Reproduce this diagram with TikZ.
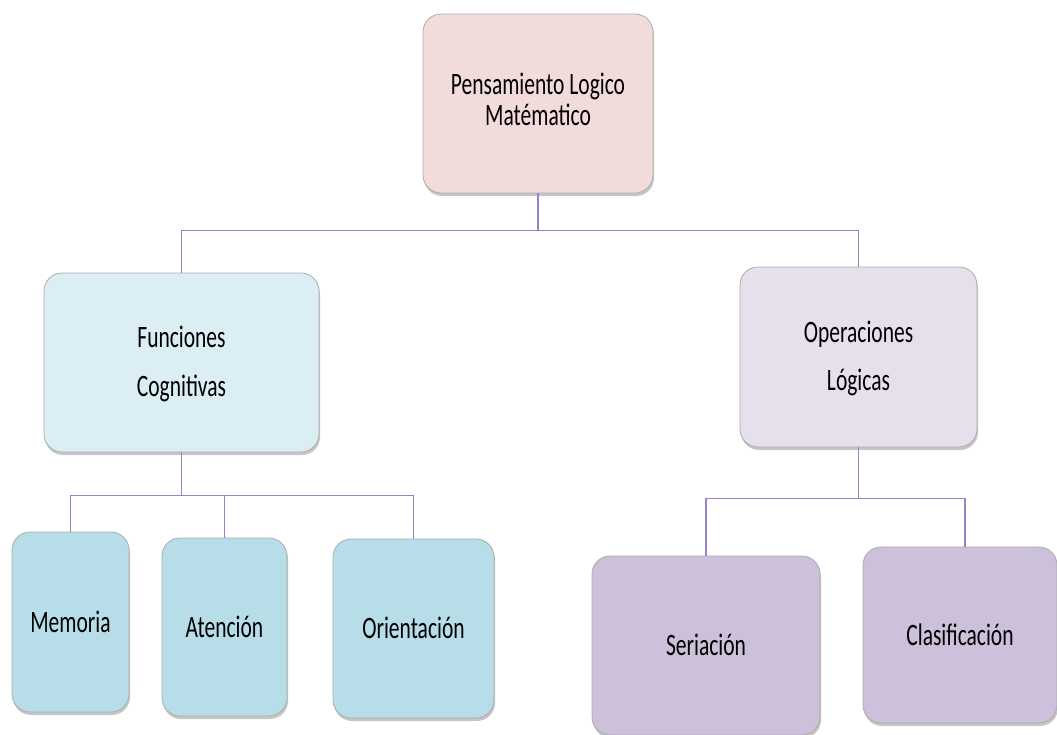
\documentclass[tikz,border=0pt]{standalone}
\usepackage{graphicx}
\usepackage{fontspec}
\setmainfont{Carlito}
\usetikzlibrary{shadows}
\definecolor{toppink}{HTML}{F2DCDB}
\definecolor{lightblue}{HTML}{DBEEF3}
\definecolor{lightlav}{HTML}{E5E0EC}
\definecolor{midblue}{HTML}{B7DEE8}
\definecolor{midlav}{HTML}{CCC0DA}
\definecolor{connpurple}{HTML}{9A80C4}
\newcommand\tallt[2]{\scalebox{1}[1.45]{\fontsize{21.5}{#1}\selectfont\begin{tabular}{@{}c@{}}#2\end{tabular}}}
\newcommand\onet[1]{\scalebox{1}[1.45]{\fontsize{21.5}{26}\selectfont\raisebox{0pt}[0.644em][0pt]{#1}}}
\begin{document}
\begin{tikzpicture}[x=1pt,y=-1pt,
  box/.style={rectangle, rounded corners=18pt, draw=gray!65, line width=0.8pt,
    drop shadow={shadow xshift=1pt, shadow yshift=-3pt, opacity=0.45, fill=gray},
    align=center, inner sep=0pt, text=black},
  conn/.style={draw=connpurple, line width=1.3pt}]
\useasboundingbox (0,0) rectangle (1057,734);
\node[box, fill=toppink, minimum width=230pt, minimum height=179pt] (top) at (538,103.5) {\tallt{20.7pt}{Pensamiento Logico\\Matématico}};
\node[box, fill=lightblue, minimum width=275pt, minimum height=179pt] (fc) at (181.5,362.5) {\tallt{33.6pt}{Funciones\\Cognitivas}};
\node[box, fill=lightlav, minimum width=237pt, minimum height=180pt] (ol) at (858.5,357) {\tallt{33pt}{Operaciones\\Lógicas}};
\node[box, fill=midblue, minimum width=117pt, minimum height=180pt] (mem) at (70.5,622) {\onet{Memoria}};
\node[box, fill=midblue, minimum width=125pt, minimum height=178pt] (ate) at (224.5,627) {\onet{Atención}};
\node[box, fill=midblue, minimum width=161pt, minimum height=179pt] (ori) at (413.5,628.5) {\onet{Orientación}};
\node[box, fill=midlav, minimum width=228pt, minimum height=179pt] (ser) at (706,645.5) {\onet{Seriación}};
\node[box, fill=midlav, minimum width=194pt, minimum height=176pt] (cla) at (960,635) {\onet{Clasificación}};
\draw[conn] (top.south) -- ++(0,37) -| (fc.north);
\draw[conn] (top.south) -- ++(0,37) -| (ol.north);
\draw[conn] (fc.south) -- ++(0,43) -| (mem.north);
\draw[conn] (fc.south) -- ++(0,43) -| (ate.north);
\draw[conn] (fc.south) -- ++(0,43) -| (ori.north);
\draw[conn] (ol.south) -- ++(0,51) -| (ser.north);
\draw[conn] (ol.south) -- ++(0,51) -| ([xshift=5pt]cla.north);
\end{tikzpicture}
\end{document}
